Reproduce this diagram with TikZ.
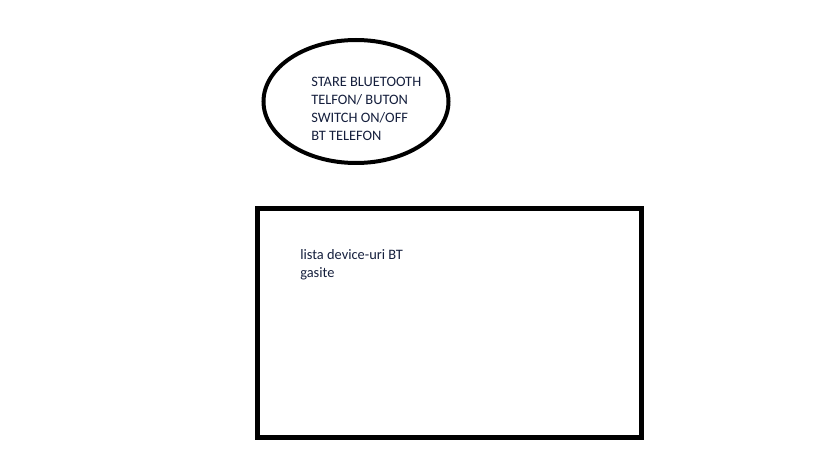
\documentclass[tikz,border=0pt]{standalone}
\usepackage{fontspec}
\setmainfont{Carlito}
\usetikzlibrary{shapes.geometric}
\definecolor{inkblue}{RGB}{20,30,60}

\begin{document}
\begin{tikzpicture}[x=0.75pt, y=-0.75pt,
    oval/.style={ellipse, draw, line width=3pt, minimum width=138.75pt, minimum height=92.25pt, inner sep=0pt},
    box/.style={rectangle, draw, line width=3.75pt, minimum width=288pt, minimum height=171.4pt, inner sep=0pt},
    txt/.style={anchor=base west, align=left, inner sep=0pt, text=inkblue, font=\fontsize{10.8}{13.5}\selectfont}]
    \useasboundingbox (0,0) rectangle (819,460);

    \node[oval] (stare) at (356,101.5) {};
    \node[txt] (stareText) at (311,140.7) {STARE BLUETOOTH\\TELFON/ BUTON\\SWITCH ON/OFF\\BT TELEFON};

    \node[box] (lista) at (449.5,323.25) {};
    \node[txt] (listaText) at (300,277) {lista device-uri BT\\gasite};

  \end{tikzpicture}
\end{document}
